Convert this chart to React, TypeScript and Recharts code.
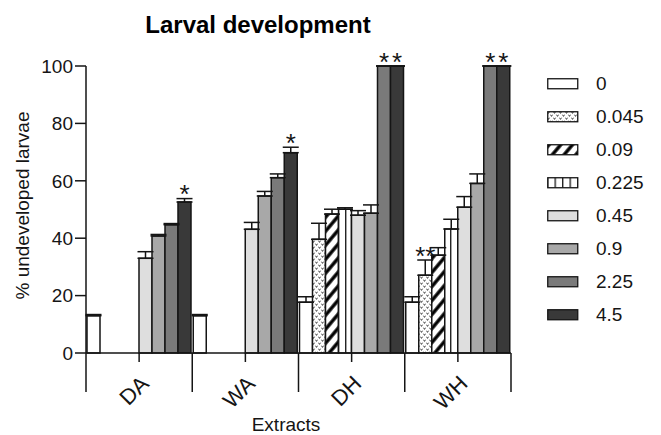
import React from 'react';
import {
  BarChart,
  Bar,
  XAxis,
  YAxis,
  ErrorBar,
  LabelList,
} from 'recharts';

const categories = ['DA', 'WA', 'DH', 'WH'];
const doses = ['0', '0.045', '0.09', '0.225', '0.45', '0.9', '2.25', '4.5'];

// mean % undeveloped larvae per dose, one value per extract (DA, WA, DH, WH)
const dose0 = [13.0, 13.0, 17.7, 17.7];
const dose0045 = [null, null, 39.6, 27.1];
const dose009 = [null, null, 48.4, 34.1];
const dose0225 = [null, null, 50.1, 43.2];
const dose045 = [33.0, 43.1, 48.0, 50.8];
const dose09 = [40.8, 54.7, 48.7, 59.1];
const dose225 = [44.7, 61.1, 100, 100];
const dose45 = [52.6, 69.8, 100, 100];

// upper error (SEM)
const err0 = [0.4, 0.4, 1.9, 1.9];
const err0045 = [null, null, 5.6, 5.3];
const err009 = [null, null, 1.7, 2.6];
const err0225 = [null, null, 0.5, 3.4];
const err045 = [2.3, 2.4, 1.6, 3.7];
const err09 = [0.5, 1.6, 2.9, 3.3];
const err225 = [0.4, 1.3, 0, 0];
const err45 = [1.2, 1.9, 0, 0];

// significance marks
const sig0045 = ['', '', '', '**'];
const sig225 = ['', '', '*', '*'];
const sig45 = ['*', '*', '*', '*'];

const seriesValues = [dose0, dose0045, dose009, dose0225, dose045, dose09, dose225, dose45];
const seriesErrors = [err0, err0045, err009, err0225, err045, err09, err225, err45];
const seriesMarks = [null, sig0045, null, null, null, null, sig225, sig45];
const fills = [
  '#ffffff',
  'url(#pat045)',
  'url(#pat09)',
  'url(#pat225)',
  '#dedede',
  '#a8a8a8',
  '#7a7a7a',
  '#393939',
];

const keys = doses.map((_, i) => `s${i}`);

const data = categories.map((cat, ci) => {
  const row: Record<string, any> = { cat };
  keys.forEach((k, si) => {
    const v = seriesValues[si][ci];
    const e = seriesErrors[si][ci];
    const marks = seriesMarks[si];
    row[k] = v;
    row[`e${k}`] = e == null ? null : [0, e];
    row[`m${k}`] = marks && marks[ci] && v != null ? { mark: marks[ci], v, e: e || 0 } : null;
  });
  return row;
});

const INK = '#151515';
const PLOT_LEFT = 86;
const PLOT_RIGHT = 511;
const BAND = (PLOT_RIGHT - PLOT_LEFT) / categories.length;

function ExtractTick(props: any) {
  const { x, y, payload, index } = props;
  const half = BAND / 2;
  return (
    <g>
      <line x1={x} y1={y} x2={x} y2={y + 9} stroke={INK} strokeWidth={1.5} />
      <line x1={x - half} y1={y} x2={x - half} y2={y + 39} stroke={INK} strokeWidth={1.5} />
      {index === categories.length - 1 && (
        <line x1={x + half} y1={y} x2={x + half} y2={y + 39} stroke={INK} strokeWidth={1.5} />
      )}
      <text
        transform={`translate(${x + 11},${y + 32}) rotate(-45)`}
        textAnchor="end"
        fontSize={22}
        fill={INK}
      >
        {payload.value}
      </text>
    </g>
  );
}

function StarLabel(props: any) {
  const vb = props.viewBox || props;
  const info = props.value;
  if (!info || typeof info !== 'object') return null;
  const { mark, v, e } = info;
  const errTop = vb.y - (e * vb.height) / v;
  return (
    <text
      x={vb.x + vb.width / 2}
      y={errTop + 4.5}
      textAnchor="middle"
      fontSize={26}
      fill={INK}
    >
      {mark}
    </text>
  );
}

function Patterns() {
  return (
    <svg width={0} height={0} style={{ position: 'absolute' }}>
      <defs>
        <pattern id="pat045" patternUnits="userSpaceOnUse" width={6} height={6}>
          <rect width={6} height={6} fill="#fff" />
          <path
            d="M0.5 0.7 L1.5 2.4 L2.5 0.7 M3.5 3.7 L4.5 5.4 L5.5 3.7"
            stroke="#333"
            strokeWidth={0.9}
            fill="none"
          />
        </pattern>
        <pattern
          id="pat09"
          patternUnits="userSpaceOnUse"
          width={9}
          height={9}
          patternTransform="rotate(40)"
        >
          <rect width={9} height={9} fill="#fff" />
          <line x1={2} y1={0} x2={2} y2={9} stroke="#000" strokeWidth={3.4} />
        </pattern>
        <pattern id="pat225" patternUnits="userSpaceOnUse" width={7.5} height={10}>
          <rect width={7.5} height={10} fill="#fff" />
          <line x1={0.7} y1={0} x2={0.7} y2={10} stroke={INK} strokeWidth={1.3} />
        </pattern>
      </defs>
    </svg>
  );
}

function DoseLegend() {
  return (
    <div style={{ position: 'absolute', left: 547, top: 67 }}>
      {doses.map((d, i) => (
        <div key={d} style={{ display: 'flex', alignItems: 'center', height: 33 }}>
          <svg width={32} height={12}>
            <rect x={0.75} y={0.75} width={30} height={10} fill={fills[i]} stroke={INK} strokeWidth={1.3} />
          </svg>
          <span style={{ marginLeft: 17, fontSize: 19, color: INK }}>{d}</span>
        </div>
      ))}
    </div>
  );
}

export default function App() {
  return (
    <div
      style={{
        position: 'absolute',
        left: 0,
        top: 0,
        width: 661,
        height: 435,
        background: '#fff',
        fontFamily: '"Liberation Sans", Arial, sans-serif',
      }}
    >
      <Patterns />
      <div
        style={{
          position: 'absolute',
          left: 0,
          top: 10,
          width: 516,
          textAlign: 'center',
          fontSize: 24,
          fontWeight: 'bold',
          color: '#000',
          lineHeight: '30px',
        }}
      >
        Larval development
      </div>
      <BarChart
        width={661}
        height={435}
        data={data}
        margin={{ top: 66, right: 150, bottom: 22, left: 30 }}
        barCategoryGap={1}
        barGap={0}
      >
        <XAxis
          dataKey="cat"
          height={60}
          interval={0}
          tickSize={0}
          tickMargin={0}
          tickLine={false}
          axisLine={{ stroke: INK, strokeWidth: 1.5 }}
          tick={<ExtractTick />}
          label={(p: any) => {
            const vb = p.viewBox;
            return (
              <text x={286} y={vb.y + vb.height + 18} textAnchor="middle" fontSize={19} fill={INK}>
                Extracts
              </text>
            );
          }}
        />
        <YAxis
          width={56}
          domain={[0, 100]}
          ticks={[0, 20, 40, 60, 80, 100]}
          tickSize={11}
          tickMargin={2}
          tick={{ fontSize: 19, fill: INK }}
          tickLine={{ stroke: INK, strokeWidth: 1.5 }}
          axisLine={{ stroke: INK, strokeWidth: 1.5 }}
          label={(p: any) => {
            const vb = p.viewBox;
            const cy = vb.y + vb.height / 2 - 4;
            return (
              <text
                transform={`translate(29,${cy}) rotate(-90)`}
                textAnchor="middle"
                fontSize={19}
                fill={INK}
              >
                % undeveloped larvae
              </text>
            );
          }}
        />
        {keys.map((k, i) => (
          <Bar
            key={k}
            dataKey={k}
            name={doses[i]}
            fill={fills[i]}
            stroke={INK}
            strokeWidth={1.5}
            isAnimationActive={false}
          >
            <ErrorBar dataKey={`e${k}`} width={8} stroke={INK} strokeWidth={1.5} />
            {seriesMarks[i] && <LabelList dataKey={`m${k}`} content={<StarLabel />} />}
          </Bar>
        ))}
      </BarChart>
      <DoseLegend />
    </div>
  );
}
